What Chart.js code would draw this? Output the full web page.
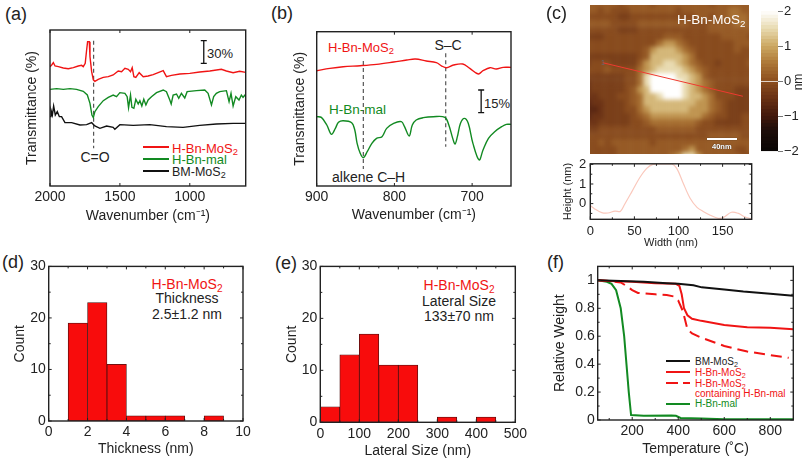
<!DOCTYPE html>
<html>
<head>
<meta charset="utf-8">
<title>H-Bn-MoS2 characterisation</title>
<script src="https://cdn.jsdelivr.net/npm/chart.js@4"></script>
<style>
html, body { margin: 0; padding: 0; background: #fff; }
#page { position: relative; width: 803px; height: 460px; overflow: hidden; font-family: "Liberation Sans", sans-serif; color: #222; }
canvas { position: absolute; }
.t { position: absolute; white-space: nowrap; transform: translateY(-50%); line-height: 1; }
.c { transform: translate(-50%, -50%); }
.t sub { font-size: .72em; line-height: 0; vertical-align: -0.25em; }
.red { color: #f01414; }
.green { color: #128a22; }
.key { position: absolute; }
#afmClip { position: absolute; left: 590px; top: 5px; width: 159px; height: 149px; overflow: hidden; }
</style>
</head>
<body>
<div id="page">
  <div id="afmClip"></div>

  <div class="t" style="left:5px;top:14px;font-size:18px">(a)</div>
  <div class="t" style="left:207px;top:53px;font-size:13px">30%</div>
  <div class="t c" style="left:95px;top:157px;font-size:14px">C=O</div>
  <div class="key" style="left:143px;top:146px;width:26px;height:2px;background:#f01414"></div>
  <div class="key" style="left:143px;top:158px;width:26px;height:2px;background:#128a22"></div>
  <div class="key" style="left:143px;top:170px;width:26px;height:2px;background:#111"></div>
  <div class="t red" style="left:172px;top:148px;font-size:13px">H-Bn-MoS<sub>2</sub></div>
  <div class="t green" style="left:172px;top:159px;font-size:13px">H-Bn-mal</div>
  <div class="t" style="left:172px;top:172px;font-size:12.5px">BM-MoS<sub>2</sub></div>

  <div class="t" style="left:271px;top:13px;font-size:18px">(b)</div>
  <div class="t red" style="left:328px;top:47px;font-size:13px">H-Bn-MoS<sub>2</sub></div>
  <div class="t c" style="left:448px;top:45px;font-size:14px">S–C</div>
  <div class="t green" style="left:329px;top:110px;font-size:13.5px">H-Bn-mal</div>
  <div class="t" style="left:484px;top:103px;font-size:13px">15%</div>
  <div class="t" style="left:332px;top:177px;font-size:14px">alkene C–H</div>

  <div class="t" style="left:546px;top:13px;font-size:18px">(c)</div>
  <div class="t" style="left:677px;top:20px;font-size:13.5px;color:#fff">H-Bn-MoS<sub>2</sub></div>
  <div class="t" style="left:601px;top:62px;font-size:7px;color:#667">1</div>
  <div class="key" style="left:707px;top:138px;width:30px;height:2px;background:#fff;box-shadow:0 0 1px #222"></div>
  <div class="t" style="left:712px;top:147px;font-size:7.5px;font-weight:bold;color:#fff;text-shadow:0 0 1px #222">40nm</div>
  <div class="t c" style="left:798px;top:82px;font-size:12px;transform:translate(-50%,-50%) rotate(-90deg)">nm</div>

  <div class="t" style="left:2px;top:262px;font-size:18px">(d)</div>
  <div class="t c red" style="left:187px;top:284px;font-size:14px">H-Bn-MoS<sub>2</sub></div>
  <div class="t c" style="left:187px;top:298px;font-size:14px">Thickness</div>
  <div class="t c" style="left:187px;top:314px;font-size:14px">2.5±1.2 nm</div>

  <div class="t" style="left:275px;top:263px;font-size:18px">(e)</div>
  <div class="t c red" style="left:459px;top:285px;font-size:14px">H-Bn-MoS<sub>2</sub></div>
  <div class="t c" style="left:459px;top:301px;font-size:14px">Lateral Size</div>
  <div class="t c" style="left:459px;top:316px;font-size:14px">133±70 nm</div>

  <div class="t" style="left:547px;top:262px;font-size:18px">(f)</div>
  <div class="key" style="left:666px;top:360px;width:24px;height:2px;background:#111"></div>
  <div class="key" style="left:666px;top:371px;width:24px;height:2px;background:#f01414"></div>
  <div class="key" style="left:666px;top:382px;width:12px;height:2px;background:#f01414"></div>
  <div class="key" style="left:683px;top:382px;width:7px;height:2px;background:#f01414"></div>
  <div class="key" style="left:666px;top:403px;width:24px;height:2px;background:#128a22"></div>
  <div class="t" style="left:695px;top:362px;font-size:10px">BM-MoS<sub>2</sub></div>
  <div class="t red" style="left:695px;top:373px;font-size:10px">H-Bn-MoS<sub>2</sub></div>
  <div class="t red" style="left:695px;top:384px;font-size:10px">H-Bn-MoS<sub>2</sub></div>
  <div class="t red" style="left:695px;top:394px;font-size:10px">containing H-Bn-mal</div>
  <div class="t green" style="left:695px;top:404px;font-size:10px">H-Bn-mal</div>
</div>

<script>
// (a) FTIR, y is in arbitrary offset units
var aRedW = [2000,1988,1976,1964,1940,1905,1869,1833,1798,1774,1762,1748,1738,1731,1719,1714,1702,1690,1679,1655,1619,1583,1548,1512,1488,1464,1440,1424,1412,1400,1386,1362,1333,1298,1262,1226,1190,1167,1131,1071,1000,929,857,774,738,690,643,600];
var aRedV = [358,363,370,360,358,354,352,355,360,362,358,368,408,433,433,388,343,318,314,320,326,328,333,345,343,353,350,343,355,328,326,340,328,330,334,340,346,328,332,336,338,342,345,350,345,340,344,341];
var aGreenW = [2000,1952,1905,1857,1810,1762,1733,1714,1700,1690,1679,1655,1619,1583,1548,1524,1500,1464,1448,1438,1424,1414,1400,1386,1369,1357,1343,1329,1314,1298,1274,1238,1190,1167,1143,1133,1119,1095,1079,1060,1036,1019,952,893,869,845,829,810,786,738,719,705,690,671,648,631,619,600];
var aGreenV = [290,292,290,292,290,284,273,248,213,205,223,238,256,266,273,268,280,278,268,235,273,236,233,260,246,256,240,260,243,258,268,280,288,283,258,246,273,276,263,278,264,283,286,288,278,243,268,278,283,286,253,278,240,268,258,273,266,275];
var aBlackW = [2000,1993,1983,1974,1962,1948,1933,1917,1893,1845,1786,1738,1702,1679,1643,1595,1548,1536,1500,1405,1286,1167,1048,929,810,690,600];
var aBlackV = [208,228,213,240,213,223,208,208,190,190,183,184,190,180,173,180,176,170,184,182,184,178,176,182,186,188,188];

// (b) FTIR close up
var bRedW = [900,883,866,844,823,801,784,773,759,746,739,733,724,712,703,692,686,677,669,660,650];
var bRedV = [346,353,358,361,365,372,378,381,375,370,360,355,363,366,353,336,346,355,351,356,356];
var bGreenW = [900,894,887,881,876,872,866,855,851,848,844,840,835,829,823,816,810,801,791,787,781,777,772,763,750,735,730,725,722,719,715,710,705,699,691,686,679,671,662,656,650];
var bGreenV = [208,206,183,155,173,191,196,190,168,128,98,85,103,128,143,148,173,188,193,178,150,183,198,205,208,206,183,143,126,148,188,203,188,128,78,108,143,163,178,185,185];

// (c) AFM height map, one character per cell, looked up in afmHeights (nm)
var afmHeights = [-0.7,-0.45,-0.25,-0.05,0.15,0.4,0.8,1.15,1.5,2];
var afmRows = [
  "44444344443444444443444444",
  "44343334444444344444445544",
  "33333223333333333443445554",
  "44443333444444443334444554",
  "33333222333333333334444444",
  "22233333333344433333344443",
  "33333333333566543333333444",
  "33333333346777654333333433",
  "22222222347777765333333333",
  "23332222467788765433233334",
  "33343333567888876543333333",
  "22222233589999887643333333",
  "12222233589999987654333333",
  "12222234679999987654333222",
  "11222334577899987765333222",
  "01122234577777777665432222",
  "00122233567777776665432222",
  "01122223456666666654332233",
  "11222223345555555433222233",
  "22333333333444444333333333",
  "33333333333333333334444433",
  "33434444443444444444444444",
  "33333444444444456444444334",
  "33333444444445688644444433"
];
var colorStops = [-2,-1.4,-1,-0.5,0,0.5,1,1.5,2];
var colorRed = [8,30,66,104,140,172,204,232,255];
var colorGreen = [5,14,24,48,78,118,168,218,255];
var colorBlue = [5,10,12,20,30,54,98,176,255];
var colorbarLevels = [-2,-1.9,-1.8,-1.7,-1.6,-1.5,-1.4,-1.3,-1.2,-1.1,-1,-0.9,-0.8,-0.7,-0.6,-0.5,-0.4,-0.3,-0.2,-0.1,0,0.1,0.2,0.3,0.4,0.5,0.6,0.7,0.8,0.9,1,1.1,1.2,1.3,1.4,1.5,1.6,1.7,1.8,1.9,2];
var colorbarStep = 0.1;
var colorbarTicks = [-2,-1,0,1,2];
var lineCut = [[2.1,9.3],[25,14.7]]; // cell coordinates of the red section line

// (c) height profile
var profileWidth = [0,5,13,20,28,34,39,47,56,64,71,81,92,98,105,113,121,128,136,145,151,160,168,175,183];
var profileHeight = [-0.1,-0.27,-0.46,-0.48,-0.38,-0.4,-0.03,0.6,1.32,1.8,2,2.03,2.03,1.8,1.08,0.29,-0.19,-0.4,-0.59,-0.75,-0.7,-0.44,-0.5,-0.67,-0.78];

// (d) thickness histogram
var thicknessBins = [1.5,2.5,3.5,4.5,5.5,6.5,8.5];
var thicknessCounts = [19,23,11,1,1,1,1];

// (e) lateral size histogram
var sizeBins = [25,75,125,175,225,325,425];
var sizeCounts = [3,13,17,11,11,1,1];

// (f) TGA
var tgaBlackT = [50,150,250,350,400,466,502,600,683,800,900];
var tgaBlackW = [1,0.995,0.99,0.98,0.975,0.965,0.95,0.935,0.92,0.905,0.89];
var tgaRedT = [50,100,200,300,390,405,415,425,440,460,500,600,700,800,900];
var tgaRedW = [1,0.995,0.99,0.98,0.975,0.96,0.9,0.8,0.75,0.725,0.71,0.68,0.665,0.66,0.65];
var tgaDashT = [50,100,150,175,200,225,300,350,380,400,420,440,460,500,600,700,800,880];
var tgaDashW = [1,0.995,0.985,0.96,0.93,0.91,0.9,0.895,0.885,0.855,0.78,0.65,0.62,0.59,0.53,0.49,0.465,0.445];
var tgaGreenT = [50,90,110,130,150,165,175,185,195,250,370,390,410,500,600,900];
var tgaGreenW = [1,0.99,0.975,0.93,0.8,0.6,0.4,0.2,0.035,0.03,0.032,0.03,0.015,0.01,0.005,0.005];

var ink = '#222';
var red = '#f01414';
var green = '#128a22';

Chart.defaults.font.family = '"Liberation Sans", sans-serif';
Chart.defaults.animation = false;
Chart.defaults.responsive = false;
Chart.defaults.plugins.legend.display = false;
Chart.defaults.plugins.tooltip.enabled = false;

// box with small inward ticks, the way the original plots are framed
Chart.register({
    id: 'frame',
    afterDatasetsDraw: function(chart, args, opts) {
        if (!opts.on) return;
        var c = chart.ctx, a = chart.chartArea;
        c.save();
        c.strokeStyle = ink;
        c.lineWidth = 1;
        function xTicks(vals, len) {
            (vals || []).forEach(function(v) {
                var p = chart.scales.x.getPixelForValue(v);
                c.beginPath();
                c.moveTo(p, a.bottom); c.lineTo(p, a.bottom - len);
                c.moveTo(p, a.top); c.lineTo(p, a.top + len);
                c.stroke();
            });
        }
        function yTicks(vals, len) {
            (vals || []).forEach(function(v) {
                var p = chart.scales.y.getPixelForValue(v);
                c.beginPath();
                c.moveTo(a.left, p); c.lineTo(a.left + len, p);
                c.moveTo(a.right, p); c.lineTo(a.right - len, p);
                c.stroke();
            });
        }
        xTicks(opts.xMajor, 3); xTicks(opts.xMinor, 2);
        yTicks(opts.yMajor, 3); yTicks(opts.yMinor, 2);
        c.lineWidth = 1.4;
        c.strokeRect(a.left, a.top, a.right - a.left, a.bottom - a.top);
        c.restore();
    }
});

function zip(xs, ys) {
    return xs.map(function(x, i) { return { x: x, y: ys[i] }; });
}

function addCanvas(parent, x, y, w, h) {
    var el = document.createElement('canvas');
    el.width = w;
    el.height = h;
    el.style.left = x + 'px';
    el.style.top = y + 'px';
    el.style.width = w + 'px';
    el.style.height = h + 'px';
    parent.appendChild(el);
    return el;
}

function axis(min, max, tickVals, title, size, reverse) {
    return {
        type: 'linear', min: min, max: max, reverse: !!reverse, offset: false,
        grid: { display: false, drawTicks: false },
        border: { display: false },
        afterBuildTicks: function(s) { s.ticks = tickVals.map(function(v) { return { value: v }; }); },
        ticks: { display: tickVals.length > 0, autoSkip: false, maxRotation: 0, padding: 3, color: ink,
                 font: { size: size }, callback: function(v) { return String(v); } },
        title: { display: !!title, text: title, color: ink, font: { size: size }, padding: 0 }
    };
}

// box = canvas [x0,y0,x1,y1], plot = wanted plot area [l,t,r,b], both in page pixels
function panel(box, plot, type, datasets, xAxis, yAxis, frame) {
    xAxis.afterFit = function(s) { s.height = box[3] - plot[3]; };
    yAxis.afterFit = function(s) { s.width = plot[0] - box[0]; };
    frame.on = true;
    return new Chart(addCanvas(document.getElementById('page'), box[0], box[1], box[2] - box[0], box[3] - box[1]), {
        type: type,
        data: { datasets: datasets },
        options: {
            layout: { padding: { left: 0, bottom: 0, top: plot[1] - box[1], right: box[2] - plot[2] } },
            scales: { x: xAxis, y: yAxis },
            plugins: { frame: frame }
        }
    });
}

function curve(xs, ys, color, width, dash, smooth) {
    return { type: 'scatter', data: zip(xs, ys), showLine: true, pointRadius: 0, borderColor: color,
             borderWidth: width, borderDash: dash || [], tension: smooth ? 0.35 : 0 };
}

function marker(x, lo, hi) {
    return curve([x, x], [lo, hi], '#555', 1.2, [4, 3]);
}

function scaleBar(x, lo, hi) {
    return { type: 'scatter', data: zip([x, x], [lo, hi]), showLine: true, borderColor: '#111', borderWidth: 1.3,
             pointStyle: 'line', pointRadius: 3, pointBorderColor: '#111', pointBorderWidth: 1.3 };
}

function histogram(bins, counts) {
    return { type: 'bar', data: zip(bins, counts), backgroundColor: '#f80c0c', borderColor: '#4a1010', borderWidth: 0.8,
             borderSkipped: false, barPercentage: 1, categoryPercentage: 1 };
}

function heightColor(h) {
    var i = 0;
    while (i < colorStops.length - 2 && h > colorStops[i + 1]) i++;
    var f = (h - colorStops[i]) / (colorStops[i + 1] - colorStops[i]);
    function mix(a) { return Math.round(a[i] + (a[i + 1] - a[i]) * f); }
    return 'rgb(' + mix(colorRed) + ',' + mix(colorGreen) + ',' + mix(colorBlue) + ')';
}

// (a)
panel([24, 20, 262, 225], [50, 30, 245.7, 186], 'scatter', [
    curve(aRedW, aRedV, red, 1.4),
    curve(aGreenW, aGreenV, green, 1.4),
    curve(aBlackW, aBlackV, '#111', 1.4),
    marker(1688, 436, 113),
    scaleBar(900, 436, 368)
], axis(600, 2000, [1000, 1500, 2000], 'Wavenumber (cm⁻¹)', 14, true),
   axis(0, 468, [], 'Transmittance (%)', 14),
   { xMajor: [1000, 1500, 2000] });

// (b)
panel([292, 20, 526, 224], [316.7, 31.7, 511, 186], 'scatter', [
    curve(bRedW, bRedV, red, 1.4, null, true),
    curve(bGreenW, bGreenV, green, 1.4, null, true),
    marker(840, 375, 51),
    marker(734, 398, 118),
    scaleBar(688.4, 288, 220)
], axis(650, 900, [700, 800, 900], 'Wavenumber (cm⁻¹)', 14, true),
   axis(0, 463, [], 'Transmittance (%)', 14),
   { xMajor: [700, 800, 900] });

// (c) height map, drawn as one row of floating bars per dataset and softened with a blur
var afmCols = afmRows[0].split('').map(function(ch, i) { return i; });
var afmClip = document.getElementById('afmClip');
var afmCanvas = addCanvas(afmClip, -5, -5, 169, 159);
afmCanvas.style.filter = 'blur(2.2px)';
new Chart(afmCanvas, {
    type: 'bar',
    data: {
        labels: afmCols,
        datasets: afmRows.map(function(row, r) {
            var colors = row.split('').map(function(ch) { return heightColor(afmHeights[+ch]); });
            return { data: afmCols.map(function() { return [r, r + 1]; }), backgroundColor: colors, borderColor: colors,
                     borderWidth: 0.6, borderSkipped: false, grouped: false, barPercentage: 1, categoryPercentage: 1 };
        })
    },
    options: { scales: { x: { display: false }, y: { display: false, min: 0, max: afmRows.length, reverse: true } } }
});

// section line sits on top of the blurred map
new Chart(addCanvas(afmClip, 0, 0, 159, 149), {
    type: 'scatter',
    data: { datasets: [{ data: zip([lineCut[0][0], lineCut[1][0]], [lineCut[0][1], lineCut[1][1]]), showLine: true,
                         pointRadius: 0, borderColor: '#ee3a30', borderWidth: 1 }] },
    options: { scales: { x: { display: false, min: 0, max: afmCols.length },
                         y: { display: false, min: 0, max: afmRows.length, reverse: true } } }
});

// (c) colour bar
new Chart(addCanvas(document.getElementById('page'), 761, 0, 40, 160), {
    type: 'bar',
    data: {
        labels: ['nm'],
        datasets: colorbarLevels.map(function(lo) {
            var col = heightColor(Math.min(lo + colorbarStep / 2, 2));
            return { data: [[lo, lo + colorbarStep]], backgroundColor: col, borderColor: col, borderWidth: 1,
                     borderSkipped: false, grouped: false, barPercentage: 1, categoryPercentage: 1 };
        })
    },
    options: {
        layout: { padding: { top: 5, bottom: 6.7, left: 0, right: 0 } },
        scales: {
            x: { display: false },
            y: {
                position: 'right', min: -2, max: 2.07,
                grid: { drawOnChartArea: false, tickLength: 5, color: '#777', lineWidth: 1 },
                border: { display: false },
                afterBuildTicks: function(s) { s.ticks = colorbarTicks.map(function(v) { return { value: v }; }); },
                afterFit: function(s) { s.width = 23; },
                ticks: { padding: 1, color: ink, font: { size: 13 },
                         callback: function(v) { return String(v).replace('-', '−'); } }
            }
        }
    }
});

// (c) profile
var profX = axis(0, 183, [0, 50, 100, 150], 'Width (nm)', 13);
profX.title.font = { size: 11 };
profX.ticks.padding = 4;
var profY = axis(-0.8, 2.03, [0, 1, 2], 'Height (nm)', 13);
profY.title.font = { size: 11 };
profY.ticks.padding = 4;
panel([561, 152, 768, 250], [590.3, 160, 751.7, 219.3], 'scatter', [
    curve(profileWidth, profileHeight, '#fac8bc', 1.2, null, true)
], profX, profY, { xMajor: [0, 50, 100, 150], xMinor: [25, 75, 125, 175], yMajor: [0, 1, 2], yMinor: [-0.5, 0.5, 1.5] });

// (d)
panel([12, 255, 256, 458], [48.7, 265, 243, 421], 'bar', [
    histogram(thicknessBins, thicknessCounts)
], axis(0, 10, [0, 2, 4, 6, 8, 10], 'Thickness (nm)', 14),
   axis(0, 30, [0, 10, 20, 30], 'Count', 14),
   { xMajor: [0, 2, 4, 6, 8, 10], xMinor: [1, 3, 5, 7, 9], yMajor: [0, 10, 20, 30], yMinor: [5, 15, 25] });

// (e)
panel([284, 255, 530, 460], [320.3, 265.7, 515.7, 422.3], 'bar', [
    histogram(sizeBins, sizeCounts)
], axis(0, 500, [0, 100, 200, 300, 400, 500], 'Lateral Size (nm)', 14),
   axis(0, 30, [0, 10, 20, 30], 'Count', 14),
   { xMajor: [0, 100, 200, 300, 400, 500], xMinor: [50, 150, 250, 350, 450], yMajor: [0, 10, 20, 30], yMinor: [5, 15, 25] });

// (f)
panel([552, 255, 803, 458], [597.7, 265, 793.3, 420], 'scatter', [
    curve(tgaBlackT, tgaBlackW, '#111', 2),
    curve(tgaRedT, tgaRedW, red, 2),
    curve(tgaDashT, tgaDashW, red, 2, [11, 6]),
    curve(tgaGreenT, tgaGreenW, green, 2)
], axis(50, 900, [200, 400, 600, 800], 'Temperature (˚C)', 14),
   axis(0, 1.1, [0, 0.2, 0.4, 0.6, 0.8, 1], 'Relative Weight', 14),
   { xMajor: [200, 400, 600, 800], xMinor: [100, 300, 500, 700], yMajor: [0, 0.2, 0.4, 0.6, 0.8, 1], yMinor: [0.1, 0.3, 0.5, 0.7, 0.9] });
</script>
</body>
</html>
